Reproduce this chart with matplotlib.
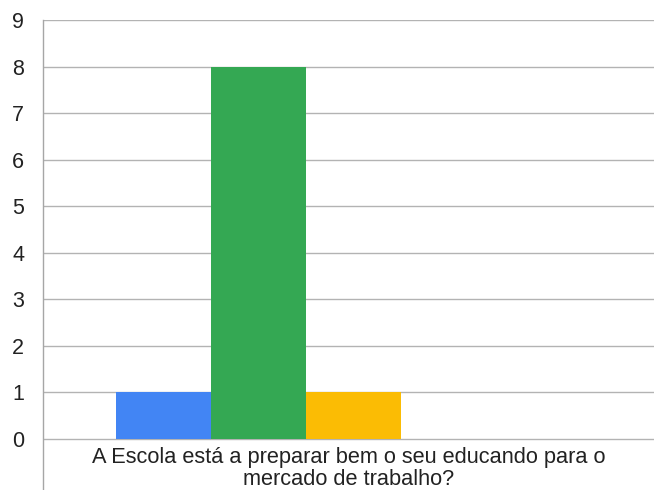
import matplotlib
matplotlib.use("Agg")
import matplotlib.pyplot as plt

# data
category = "A Escola está a preparar bem o seu educando para o\nmercado de trabalho?"
series_values = [1, 8, 1, 0, 0]
series_colors = ["#4285f4", "#34a853", "#fbbc04", "#ea4335", "#46bdc6"]
y_ticks = list(range(0, 10))

plt.rcParams['font.family'] = ['Liberation Sans', 'DejaVu Sans']

fig = plt.figure(figsize=(6.54, 4.9), dpi=100)
ax = fig.add_axes([43 / 654, 0, 611 / 654, 470 / 490])

px_per_unit = 419 / 9
ax.set_ylim(9 - 470 / px_per_unit, 9)
ax.set_xlim(-0.5, 0.5)

width = 95 / 611
start = (116 - 43) / 611 - 0.5
for i, (v, c) in enumerate(zip(series_values, series_colors)):
    ax.bar(start + i * width, v, width=width, align='edge', color=c, zorder=3)

for t in y_ticks:
    ax.axhline(t, color="#b3b3b3", lw=1.0, zorder=1)

ax.set_yticks(y_ticks)
ax.set_yticklabels([str(t) for t in y_ticks], fontsize=15.5, color="#222222")
ax.tick_params(axis='y', length=0, pad=13.5)
ax.set_xticks([])

for s in ["top", "right", "bottom"]:
    ax.spines[s].set_visible(False)
ax.spines["left"].set_color("#a6a6a6")
ax.spines["left"].set_linewidth(1.0)

ax.text(0.0, -0.63, category, ha='center', va='center', fontsize=15.7,
        color="#222222", linespacing=1.08)

fig.savefig("out.png", dpi=100)
